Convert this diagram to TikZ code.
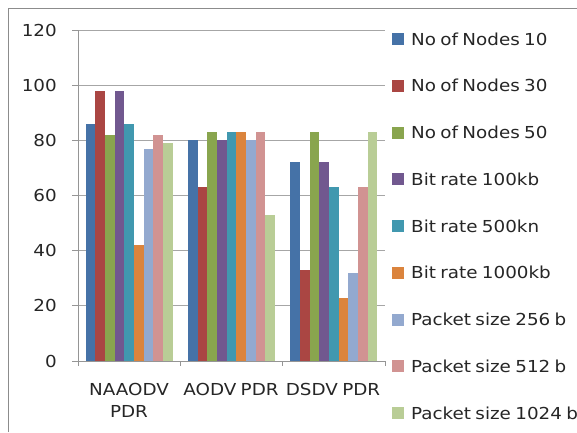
\documentclass[tikz,border=0pt]{standalone}
\usepackage{fontspec}
\setmainfont{DejaVu Sans}[FakeStretch=1.11, WordSpace=0.75]
\definecolor{c1}{HTML}{4572A7}
\definecolor{c2}{HTML}{AA4643}
\definecolor{c3}{HTML}{89A54E}
\definecolor{c4}{HTML}{71588F}
\definecolor{c5}{HTML}{4198AF}
\definecolor{c6}{HTML}{DB843D}
\definecolor{c7}{HTML}{93A9CF}
\definecolor{c8}{HTML}{D19392}
\definecolor{c9}{HTML}{B9CD96}
\definecolor{gridgray}{HTML}{A6A6A6}
\definecolor{framegray}{HTML}{8C8C8C}
\begin{document}
\begin{tikzpicture}[x=1pt,y=-1pt,
  lbl/.style={font=\fontsize{16.5}{22}\selectfont, inner sep=0pt, text=black!85},
  gridline/.style={draw=gridgray, line width=1pt},
  axisline/.style={draw=gridgray!90!black, line width=1pt}]
\useasboundingbox (0,0) rectangle (577,432);
\fill[white] (0,0) rectangle (577,432);
\draw[framegray, line width=1pt] (8,432) -- (8,8) -- (577,8);
% gridlines
\foreach \v in {20,40,...,120}
  \draw[gridline] (72,{361-\v*2.7583}) -- (385,{361-\v*2.7583});
% bars
\foreach \g/\vals in {0/{86,98,82,98,86,42,77,82,79},1/{80,63,83,80,83,83,80,83,53},2/{72,33,83,72,63,23,32,63,83}}{
  \foreach \v [count=\i] in \vals {
    \fill[c\i] ({85.7+\g*102.33+(\i-1)*9.65},361) rectangle ({85.7+\g*102.33+\i*9.65},{361-\v*2.7583});
  }
}
% axes
\draw[axisline] (78,30) -- (78,366);
\draw[axisline] (72,361) -- (385,361);
\foreach \x in {180,282,385} \draw[axisline] (\x,361) -- (\x,366);
\foreach \v in {20,40,...,120} \draw[axisline] (72,{361-\v*2.7583}) -- (78,{361-\v*2.7583});
% y labels
\foreach \v in {0,20,...,120}
  \node[lbl, anchor=east] (y\v) at (57,{361-\v*2.7583}) {\v};
% category labels
\node[lbl, align=center, anchor=north] (cat1) at (129,383) {NAAODV\\PDR};
\node[lbl, anchor=north] (cat2) at (231,383) {AODV PDR};
\node[lbl, anchor=north] (cat3) at (333,383) {DSDV PDR};
% legend
\foreach \t [count=\i] in {No of Nodes 10,No of Nodes 30,No of Nodes 50,Bit rate 100kb,Bit rate 500kn,Bit rate 1000kb,Packet size 256 b,Packet size 512 b,Packet size 1024 b}{
  \fill[c\i] (392,{39+(\i-1)*46.75-6}) rectangle (404,{39+(\i-1)*46.75+6});
  \node[lbl, anchor=west] (leg\i) at (411,{39+(\i-1)*46.75}) {\t};
}
\end{tikzpicture}
\end{document}
